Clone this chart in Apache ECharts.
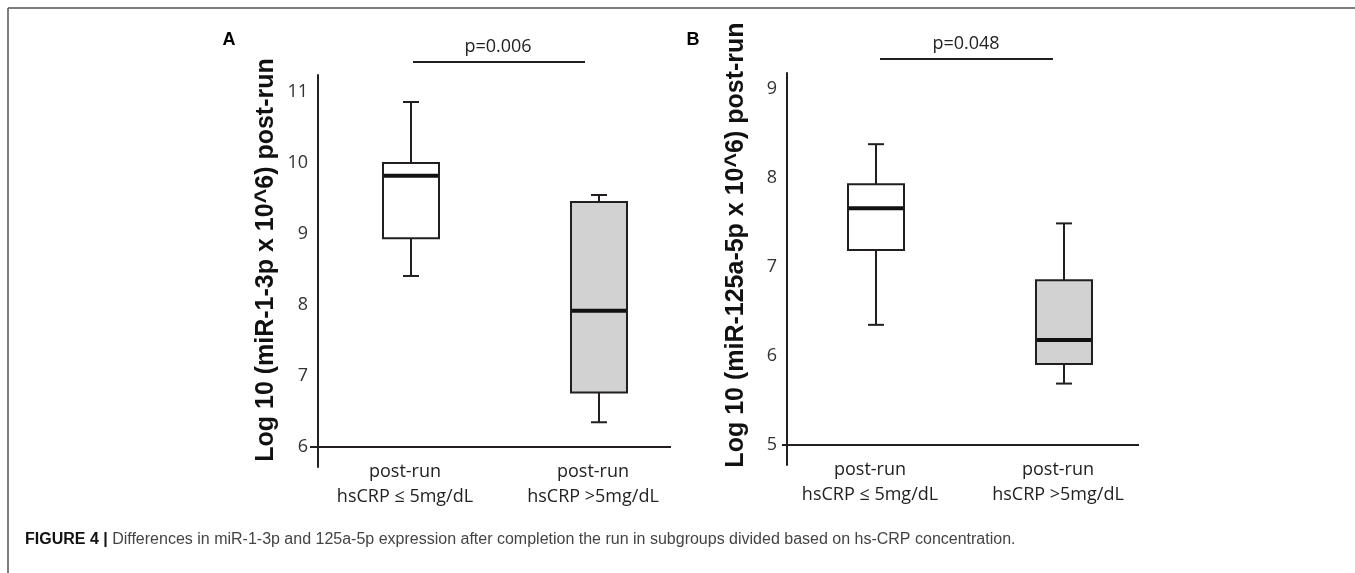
<!DOCTYPE html>
<html>
<head>
<meta charset="utf-8">
<title>Figure 4</title>
<script src="https://cdn.jsdelivr.net/npm/echarts@6/dist/echarts.min.js"></script>
<style>
  html, body { margin: 0; padding: 0; background: #fff; }
  #fig4 { width: 1355px; height: 573px; }
</style>
</head>
<body>
<div id="fig4"></div>
<script>
// group labels (x axis)
var categories = ['post-run\nhsCRP ≤ 5mg/dL', 'post-run\nhsCRP >5mg/dL'];
var groupPos = [1, 2];

// box stats per group: [min, Q1, median, Q3, max]
var mir13pStats = [
    [8.41, 8.94, 9.82, 10.00, 10.86],
    [6.35, 6.77, 7.92, 9.45, 9.55]
];
var mir125aStats = [
    [6.35, 7.19, 7.66, 7.93, 8.38],
    [5.69, 5.91, 6.18, 6.85, 7.49]
];

// y tick labels
var ticksA = [6, 7, 8, 9, 10, 11];
var ticksB = [5, 6, 7, 8, 9];

var titleA = 'Log 10 (miR-1-3p x 10^6) post-run';
var titleB = 'Log 10 (miR-125a-5p x 10^6) post-run';
var pTexts = ['p=0.006', 'p=0.048'];

var INK = '#231f20';
var BOX_W = 56, CAP_W = 16;
var boxFills = ['#ffffff', '#d2d2d2'];

function toRows(stats) {
    return stats.map(function (s, i) { return [groupPos[i]].concat(s); });
}

function renderBox(params, api) {
    var x = api.value(0);
    var pMin = api.coord([x, api.value(1)]);
    var pQ1 = api.coord([x, api.value(2)]);
    var pMed = api.coord([x, api.value(3)]);
    var pQ3 = api.coord([x, api.value(4)]);
    var pMax = api.coord([x, api.value(5)]);
    var cx = pMin[0];
    var hw = BOX_W / 2, cw = CAP_W / 2;
    var ls = { stroke: INK, lineWidth: 2 };
    return {
        type: 'group',
        children: [
            { type: 'line', shape: { x1: cx, y1: pQ3[1], x2: cx, y2: pMax[1] }, style: ls },
            { type: 'line', shape: { x1: cx, y1: pQ1[1], x2: cx, y2: pMin[1] }, style: ls },
            { type: 'line', shape: { x1: cx - cw, y1: pMax[1], x2: cx + cw, y2: pMax[1] }, style: ls },
            { type: 'line', shape: { x1: cx - cw, y1: pMin[1], x2: cx + cw, y2: pMin[1] }, style: ls },
            { type: 'rect', shape: { x: cx - hw, y: pQ3[1], width: BOX_W, height: pQ1[1] - pQ3[1] },
              style: { fill: boxFills[params.dataIndex], stroke: INK, lineWidth: 2 } },
            { type: 'line', shape: { x1: cx - hw + 1, y1: pMed[1], x2: cx + hw - 1, y2: pMed[1] },
              style: { stroke: '#111', lineWidth: 4 } }
        ]
    };
}

function xAxisFor(idx, min, max) {
    return {
        gridIndex: idx, type: 'value', min: min, max: max, offset: -20,
        axisLine: { show: false }, axisTick: { show: false }, splitLine: { show: false },
        axisLabel: {
            customValues: groupPos, margin: 12, interval: 0,
            formatter: function (v) { return categories[Math.round(v) - 1]; },
            fontFamily: 'Open Sans', fontSize: 18, color: '#222', lineHeight: 25,
            padding: [0, 12, 0, 0]
        }
    };
}

function yAxisFor(idx, min, max, ticks, offset, title, gap, shift) {
    return {
        gridIndex: idx, type: 'value', min: min, max: max, offset: offset,
        axisLine: { show: true, lineStyle: { color: INK, width: 2 } },
        axisTick: { show: false }, splitLine: { show: false },
        axisLabel: { customValues: ticks, margin: 10, fontFamily: 'Open Sans', fontSize: 18, color: '#333' },
        name: title, nameLocation: 'middle', nameRotate: 90, nameGap: gap,
        nameTextStyle: { fontFamily: 'Liberation Sans', fontWeight: 'bold', fontSize: 25, color: '#111',
                         padding: [0, 0, 0, shift] }
    };
}

function boxSeries(idx, stats, baseY) {
    return {
        type: 'custom', xAxisIndex: idx, yAxisIndex: idx,
        data: toRows(stats), renderItem: renderBox,
        encode: { x: 0, y: [1, 2, 3, 4, 5] },
        markLine: {
            silent: true, symbol: 'none', label: { show: false },
            lineStyle: { color: INK, width: 2, type: 'solid' },
            data: [{ yAxis: baseY }]
        }
    };
}

var fig4 = echarts.init(document.getElementById('fig4'));
var option = {
    animation: false,
    backgroundColor: '#fff',
    grid: [
        { left: 310, top: 75, width: 361, height: 392 },
        { left: 782, top: 73, width: 357, height: 392 }
    ],
    xAxis: [ xAxisFor(0, 0.4628, 2.383), xAxisFor(1, 0.5, 2.399) ],
    yAxis: [
        yAxisFor(0, 5.72, 11.24, ticksA, -8, titleA, 39, 22),
        yAxisFor(1, 4.775, 9.18, ticksB, -5, titleB, 38, 48)
    ],
    series: [ boxSeries(0, mir13pStats, ticksA[0]), boxSeries(1, mir125aStats, ticksB[0]) ],
    graphic: [
        { type: 'line', shape: { x1: 8, y1: 8, x2: 1355, y2: 8 }, style: { stroke: '#555', lineWidth: 1.5 } },
        { type: 'line', shape: { x1: 8, y1: 8, x2: 8, y2: 573 }, style: { stroke: '#555', lineWidth: 1.5 } },
        { type: 'text', x: 229, y: 40, style: { text: 'A', font: 'bold 18px "Liberation Sans"', fill: '#000', textAlign: 'center', textVerticalAlign: 'middle' } },
        { type: 'text', x: 693, y: 40, style: { text: 'B', font: 'bold 18px "Liberation Sans"', fill: '#000', textAlign: 'center', textVerticalAlign: 'middle' } },
        { type: 'line', shape: { x1: 413, y1: 62, x2: 585, y2: 62 }, style: { stroke: INK, lineWidth: 2 } },
        { type: 'text', x: 498, y: 47, style: { text: pTexts[0], font: '18px "Open Sans"', fill: '#222', textAlign: 'center', textVerticalAlign: 'middle' } },
        { type: 'line', shape: { x1: 880, y1: 59, x2: 1053, y2: 59 }, style: { stroke: INK, lineWidth: 2 } },
        { type: 'text', x: 966, y: 44, style: { text: pTexts[1], font: '18px "Open Sans"', fill: '#222', textAlign: 'center', textVerticalAlign: 'middle' } },
        { type: 'text', x: 25, y: 540, style: {
            text: '{b|FIGURE 4 |} Differences in miR-1-3p and 125a-5p expression after completion the run in subgroups divided based on hs-CRP concentration.',
            rich: { b: { fontFamily: 'Liberation Sans', fontWeight: 'bold', fontSize: 16, fill: '#111' } },
            fontFamily: 'Liberation Sans', fontSize: 16, fill: '#444', textVerticalAlign: 'middle'
        } }
    ]
};
fig4.setOption(option);

window.onresize = fig4.resize;
</script>
</body>
</html>
